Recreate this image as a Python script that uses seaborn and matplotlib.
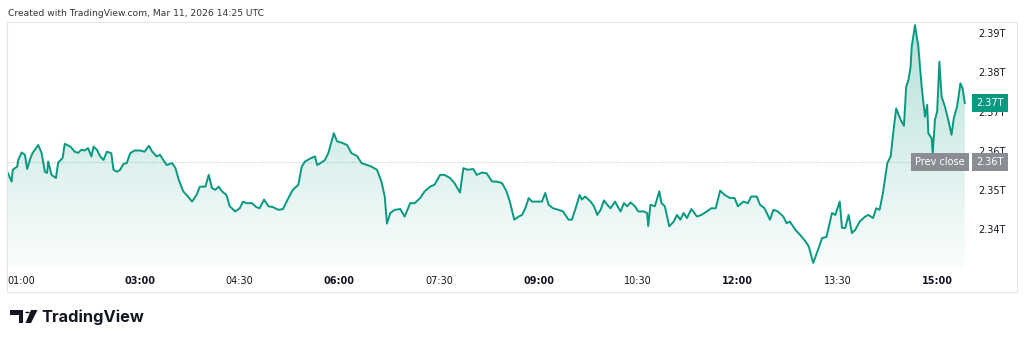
import numpy as np
import pandas as pd
import matplotlib
matplotlib.use("Agg")
import matplotlib.pyplot as plt
import matplotlib.dates as mdates
from matplotlib.patches import Rectangle, Circle, Polygon
from matplotlib.colors import LinearSegmentedColormap
import seaborn as sns

# intraday values (trillions, time = UTC+1)
times = [
    "01:00", "01:04", "01:05", "01:09", "01:10", "01:13", "01:16", "01:18", "01:21", "01:23",
    "01:28", "01:31", "01:34", "01:36", "01:37", "01:40", "01:44", "01:46", "01:50", "01:52",
    "01:57", "02:01", "02:04", "02:07", "02:10", "02:13", "02:16", "02:18", "02:21", "02:24",
    "02:27", "02:30", "02:34", "02:36", "02:39", "02:42", "02:45", "02:48", "02:51", "02:55",
    "03:00", "03:04", "03:08", "03:11", "03:15", "03:18", "03:21", "03:24", "03:29", "03:32",
    "03:35", "03:39", "03:42", "03:47", "03:51", "03:54", "03:59", "04:02", "04:05", "04:08",
    "04:11", "04:14", "04:18", "04:21", "04:26", "04:30", "04:33", "04:36", "04:41", "04:45",
    "04:48", "04:52", "04:56", "05:00", "05:05", "05:09", "05:14", "05:18", "05:23", "05:26",
    "05:29", "05:34", "05:38", "05:40", "05:43", "05:47", "05:50", "05:55", "05:58", "06:02",
    "06:07", "06:11", "06:16", "06:20", "06:25", "06:29", "06:34", "06:38", "06:41", "06:43",
    "06:46", "06:50", "06:55", "06:59", "07:04", "07:08", "07:13", "07:17", "07:22", "07:26",
    "07:31", "07:35", "07:40", "07:44", "07:49", "07:52", "07:56", "08:01", "08:04", "08:09",
    "08:13", "08:18", "08:22", "08:27", "08:31", "08:34", "08:38", "08:42", "08:45", "08:48",
    "08:51", "08:54", "08:58", "09:03", "09:06", "09:09", "09:13", "09:18", "09:22", "09:27",
    "09:30", "09:34", "09:37", "09:39", "09:42", "09:47", "09:50", "09:53", "09:56", "09:59",
    "10:02", "10:05", "10:09", "10:14", "10:17", "10:20", "10:23", "10:27", "10:30", "10:35",
    "10:38", "10:39", "10:41", "10:45", "10:49", "10:51", "10:54", "10:58", "11:02", "11:05",
    "11:08", "11:11", "11:14", "11:18", "11:23", "11:27", "11:32", "11:36", "11:40", "11:44",
    "11:48", "11:53", "11:57", "12:00", "12:05", "12:09", "12:12", "12:17", "12:20", "12:24",
    "12:29", "12:32", "12:36", "12:41", "12:44", "12:47", "12:52", "12:56", "13:01", "13:04",
    "13:08", "13:13", "13:16", "13:20", "13:25", "13:28", "13:32", "13:34", "13:37", "13:40",
    "13:43", "13:46", "13:50", "13:55", "13:58", "14:02", "14:05", "14:08", "14:11", "14:15",
    "14:18", "14:21", "14:23", "14:27", "14:30", "14:32", "14:34", "14:36", "14:37", "14:40",
    "14:43", "14:46", "14:49", "14:51", "14:52", "14:55", "14:56", "14:58", "15:00", "15:02",
    "15:04", "15:07", "15:10", "15:13", "15:15", "15:18", "15:21", "15:23", "15:25",
]
prices = [
    2.3547, 2.3522, 2.3552, 2.3560, 2.3577, 2.3596, 2.3590, 2.3554, 2.3582, 2.3595,
    2.3615, 2.3595, 2.3547, 2.3544, 2.3573, 2.3539, 2.3531, 2.3570, 2.3582, 2.3618,
    2.3611, 2.3598, 2.3595, 2.3603, 2.3601, 2.3607, 2.3586, 2.3611, 2.3603, 2.3586,
    2.3577, 2.3598, 2.3594, 2.3552, 2.3547, 2.3552, 2.3567, 2.3569, 2.3594, 2.3601,
    2.3601, 2.3598, 2.3613, 2.3598, 2.3586, 2.3590, 2.3577, 2.3564, 2.3569, 2.3556,
    2.3526, 2.3497, 2.3488, 2.3471, 2.3488, 2.3509, 2.3509, 2.3539, 2.3505, 2.3501,
    2.3509, 2.3497, 2.3488, 2.3459, 2.3446, 2.3454, 2.3471, 2.3467, 2.3467, 2.3457,
    2.3454, 2.3476, 2.3459, 2.3457, 2.3450, 2.3452, 2.3480, 2.3501, 2.3514, 2.3560,
    2.3573, 2.3581, 2.3586, 2.3564, 2.3569, 2.3577, 2.3594, 2.3645, 2.3624, 2.3621,
    2.3615, 2.3594, 2.3587, 2.3569, 2.3564, 2.3560, 2.3552, 2.3522, 2.3484, 2.3415,
    2.3442, 2.3450, 2.3452, 2.3433, 2.3467, 2.3467, 2.3480, 2.3497, 2.3509, 2.3514,
    2.3539, 2.3539, 2.3531, 2.3518, 2.3494, 2.3556, 2.3552, 2.3554, 2.3539, 2.3545,
    2.3543, 2.3522, 2.3522, 2.3518, 2.3497, 2.3471, 2.3425, 2.3433, 2.3437, 2.3454,
    2.3480, 2.3471, 2.3471, 2.3471, 2.3493, 2.3463, 2.3454, 2.3450, 2.3446, 2.3425,
    2.3425, 2.3459, 2.3488, 2.3476, 2.3484, 2.3471, 2.3459, 2.3437, 2.3450, 2.3474,
    2.3463, 2.3454, 2.3471, 2.3446, 2.3467, 2.3459, 2.3469, 2.3459, 2.3446, 2.3446,
    2.3442, 2.3409, 2.3463, 2.3459, 2.3497, 2.3467, 2.3459, 2.3408, 2.3420, 2.3437,
    2.3425, 2.3442, 2.3429, 2.3452, 2.3433, 2.3437, 2.3446, 2.3454, 2.3454, 2.3499,
    2.3488, 2.3480, 2.3480, 2.3459, 2.3471, 2.3467, 2.3484, 2.3484, 2.3463, 2.3454,
    2.3425, 2.3450, 2.3446, 2.3433, 2.3416, 2.3420, 2.3399, 2.3387, 2.3370, 2.3357,
    2.3315, 2.3353, 2.3378, 2.3381, 2.3442, 2.3437, 2.3471, 2.3404, 2.3404, 2.3437,
    2.3391, 2.3399, 2.3420, 2.3433, 2.3437, 2.3429, 2.3454, 2.3450, 2.3493, 2.3569,
    2.3586, 2.3662, 2.3708, 2.3679, 2.3664, 2.3763, 2.3780, 2.3814, 2.3865, 2.3920,
    2.3865, 2.3763, 2.3687, 2.3717, 2.3645, 2.3632, 2.3594, 2.3679, 2.3700, 2.3827,
    2.3738, 2.3713, 2.3679, 2.3641, 2.3683, 2.3713, 2.3772, 2.3759, 2.3721,
]
prev_close = 2.3572
last_price = 2.3721
tick_times = ["01:00", "03:00", "04:30", "06:00", "07:30", "09:00", "10:30", "12:00", "13:30", "15:00"]
tick_prices = [2.34, 2.35, 2.36, 2.37, 2.38, 2.39]

day = "2026-03-11 "
df = pd.DataFrame({"time": pd.to_datetime([day + t for t in times]), "price": prices})

green = "#089981"
ink = "#131722"

sns.set_theme(style="white")
plt.rcParams["font.family"] = ["DejaVu Sans"]

W, H = 1024, 342
fig = plt.figure(figsize=(W / 100, H / 100), dpi=100)


def box(x0, y0, x1, y1):
    return [x0 / W, 1 - y1 / H, (x1 - x0) / W, (y1 - y0) / H]


def fx(x):
    return x / W


def fy(y):
    return 1 - y / H


ax = fig.add_axes(box(7, 22, 970, 268))
ylo, yhi = 2.3302, 2.3928
x_start = pd.Timestamp(day + "00:59:48")
x_end = pd.Timestamp(day + "15:29:40")

sns.lineplot(data=df, x="time", y="price", color=green, linewidth=1.4, ax=ax, zorder=3)

# gradient area under the line
xnum = mdates.date2num(df["time"])
area = ax.fill_between(df["time"], df["price"], ylo, color="none", lw=0)
fade = LinearSegmentedColormap.from_list(
    "fade", [(8 / 255, 153 / 255, 129 / 255, 0.02), (8 / 255, 153 / 255, 129 / 255, 0.30)])
img = ax.imshow(np.linspace(1, 0, 256).reshape(-1, 1), cmap=fade, aspect="auto",
                extent=[xnum[0], xnum[-1], ylo, yhi], origin="upper", zorder=1)
img.set_clip_path(area.get_paths()[0], transform=ax.transData)

ax.axhline(prev_close, color="#c8cad0", lw=0.8, ls=(0, (1, 1.5)), zorder=0.8)

ax.set_xlim(x_start, x_end)
ax.set_ylim(ylo, yhi)
ax.set_xlabel("")
ax.set_ylabel("")
for s in ax.spines.values():
    s.set_visible(False)

ax.yaxis.tick_right()
ax.set_yticks(tick_prices)
ax.set_yticklabels([f"{v:.2f}T" for v in tick_prices])
ax.tick_params(axis="y", length=0, pad=6, labelsize=7, labelcolor=ink)

ax.set_xticks(pd.to_datetime([day + t for t in tick_times]))
ax.set_xticklabels(tick_times)
ax.tick_params(axis="x", length=0, pad=6, labelsize=7, labelcolor=ink)
for lab, t in zip(ax.get_xticklabels(), tick_times):
    if t.endswith(":00") and int(t[:2]) % 3 == 0:
        lab.set_fontweight("bold")
ax.get_xticklabels()[0].set_horizontalalignment("left")

# price labels on the scale
ytr = ax.get_yaxis_transform()
lbl_x = (990 - 7) / (970 - 7)
ax.text(lbl_x, last_price, f"{last_price:.2f}T", transform=ytr, ha="center", va="center",
        fontsize=7, color="white", clip_on=False, zorder=5,
        bbox=dict(boxstyle="square,pad=0.4", fc=green, ec="none"))
ax.text(lbl_x, prev_close, f"{prev_close:.2f}T", transform=ytr, ha="center", va="center",
        fontsize=7, color="white", clip_on=False, zorder=5,
        bbox=dict(boxstyle="square,pad=0.4", fc="#8a8d93", ec="none"))
ax.text((965 - 7) / (970 - 7), prev_close, "Prev close", transform=ytr, ha="right", va="center",
        fontsize=7, color="white", clip_on=False, zorder=5,
        bbox=dict(boxstyle="square,pad=0.4", fc="#8a8d93", ec="none"))

# panel frame and header
fig.patches.append(Rectangle((fx(7), fy(292)), (1017 - 7) / W, (292 - 22) / H,
                             transform=fig.transFigure, fill=False, ec="#e3e5ea", lw=0.8))
fig.text(fx(8), fy(13), "Created with TradingView.com, Mar 11, 2026 14:25 UTC",
         fontsize=6.6, color="#333333", va="center", ha="left")

# TradingView logo
logo = "#131722"
fig.patches.append(Rectangle((fx(9.5), fy(314.5)), 13.5 / W, 4.5 / H, transform=fig.transFigure, fc=logo, ec="none"))
fig.patches.append(Rectangle((fx(18.5), fy(323)), 4.5 / W, 13 / H, transform=fig.transFigure, fc=logo, ec="none"))
fig.patches.append(Circle((fx(27.5), fy(312.5)), 2.3 / W, transform=fig.transFigure, fc=logo, ec="none"))
fig.patches.append(Polygon([(fx(31), fy(310)), (fx(37.5), fy(310)), (fx(31), fy(323)), (fx(25.5), fy(323))],
                           closed=True, transform=fig.transFigure, fc=logo, ec="none"))
fig.text(fx(41), fy(317), "TradingView", fontsize=11.8, fontweight="bold", color=logo,
         family=["Inter", "DejaVu Sans"], va="center", ha="left")

fig.savefig("out.png", dpi=100, facecolor="white")
